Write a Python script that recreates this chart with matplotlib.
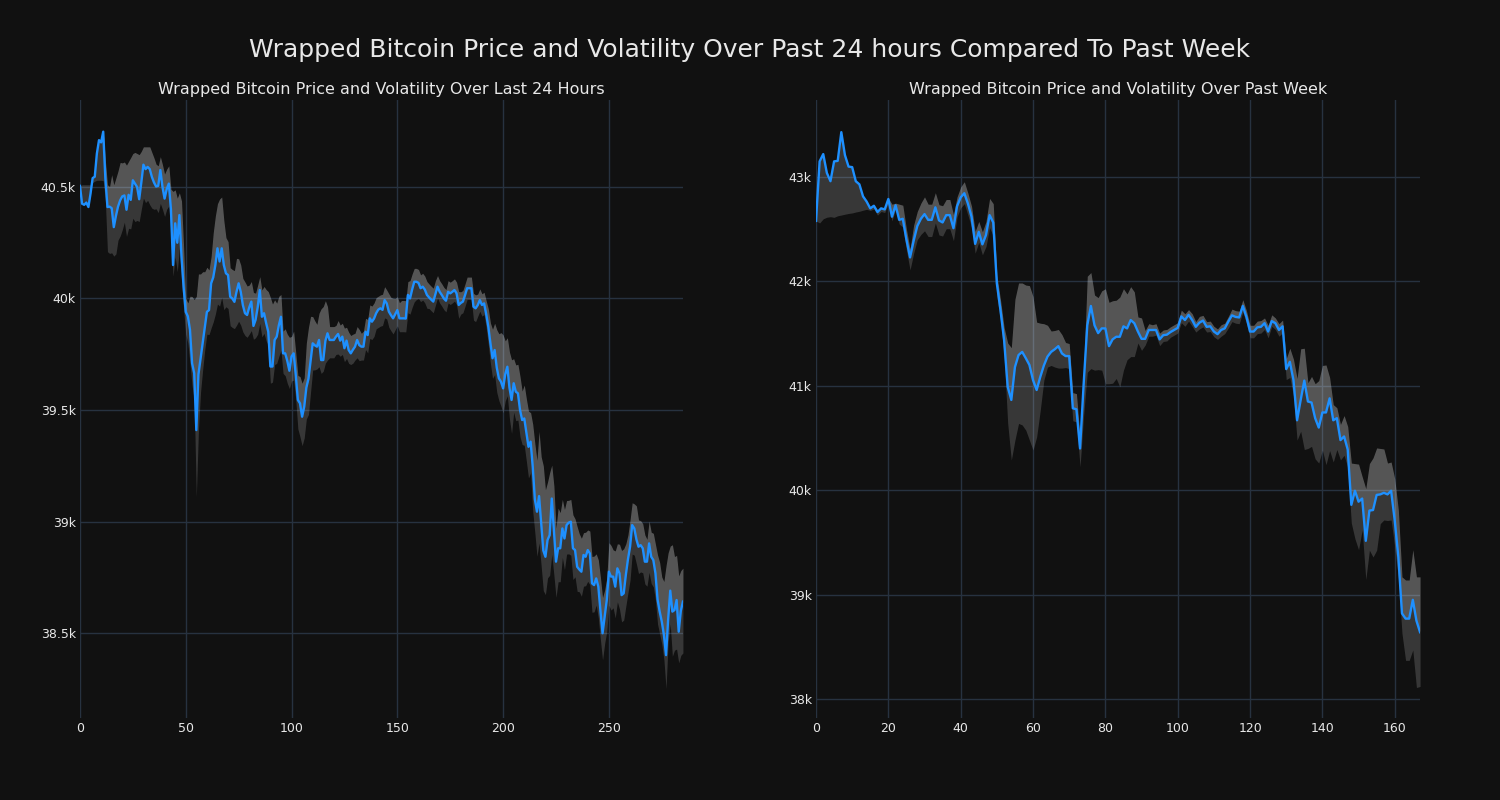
import numpy as np
import matplotlib
matplotlib.use("Agg")
import matplotlib.pyplot as plt
from matplotlib.ticker import FuncFormatter, MultipleLocator

# last 24 hours, 5-minute steps
day_price = [
    40505, 40425, 40420, 40430, 40410, 40470, 40540, 40546, 40650, 40710,
    40700, 40748, 40540, 40410, 40412, 40405, 40320, 40370, 40412, 40440,
    40458, 40462, 40398, 40465, 40442, 40530, 40515, 40500, 40445, 40520,
    40600, 40580, 40590, 40580, 40545, 40520, 40502, 40505, 40576, 40500,
    40448, 40490, 40515, 40400, 40150, 40337, 40250, 40374, 40187, 40050,
    39940, 39920, 39860, 39709, 39665, 39410, 39660, 39730, 39800, 39870,
    39940, 39948, 40068, 40095, 40150, 40225, 40166, 40225, 40150, 40113,
    40105, 40008, 40000, 39985, 40030, 40068, 40030, 39970, 39934, 39926,
    39960, 39986, 39877, 39904, 39960, 40038, 39918, 39934, 39890, 39851,
    39695, 39695, 39814, 39829, 39880, 39918, 39754, 39754, 39720, 39676,
    39740, 39754, 39657, 39545, 39530, 39470, 39515, 39600, 39640, 39720,
    39799, 39790, 39784, 39814, 39724, 39724, 39810, 39844, 39814, 39814,
    39814, 39829, 39841, 39811, 39829, 39777, 39811, 39769, 39754, 39770,
    39784, 39814, 39791, 39784, 39784, 39851, 39836, 39911, 39896, 39910,
    39934, 39950, 39956, 39949, 39993, 39978, 39941, 39925, 39911, 39930,
    39948, 39911, 39911, 39911, 39910, 40016, 40000, 40040, 40075, 40075,
    40070, 40046, 40053, 40040, 40016, 40005, 39995, 39986, 40020, 40053,
    40030, 40016, 40000, 39990, 40030, 40023, 40030, 40038, 40023, 39971,
    39980, 39986, 40015, 40046, 40046, 40046, 39963, 39956, 39970, 39993,
    39971, 39978, 39930, 39874, 39800, 39732, 39769, 39690, 39642, 39627,
    39597, 39660, 39694, 39600, 39545, 39620, 39582, 39575, 39500, 39455,
    39462, 39400, 39335, 39358, 39246, 39100, 39044, 39114, 38990, 38870,
    38842, 38917, 38939, 39103, 38960, 38820, 38880, 38880, 38969, 38924,
    38984, 38995, 38999, 38880, 38872, 38797, 38785, 38775, 38850, 38842,
    38872, 38857, 38723, 38715, 38745, 38708, 38600, 38499, 38573, 38648,
    38775, 38753, 38753, 38708, 38790, 38768, 38670, 38678, 38760, 38830,
    38887, 38984, 38969, 38920, 38887, 38894, 38880, 38820, 38820, 38902,
    38842, 38827, 38768, 38650, 38596, 38551, 38491, 38401, 38560, 38690,
    38596, 38603, 38648, 38506, 38600, 38641,
]
day_up = [
    0, 0, 0, 0, 0, 0, 0, 0, 0, 0,
    0, 0, 80, 100, 90, 150, 190, 170, 160, 170,
    150, 150, 200, 150, 190, 120, 140, 150, 200, 140,
    80, 100, 90, 100, 110, 110, 100, 90, 60, 100,
    110, 90, 80, 90, 330, 150, 200, 100, 250, 180,
    60, 60, 150, 300, 330, 600, 450, 380, 320, 250,
    200, 180, 120, 200, 220, 200, 280, 230, 200, 160,
    150, 130, 130, 140, 150, 110, 120, 120, 140, 130,
    100, 90, 150, 120, 100, 60, 120, 120, 150, 180,
    310, 280, 180, 150, 130, 100, 100, 110, 120, 150,
    90, 100, 100, 110, 120, 150, 130, 200, 230, 200,
    120, 110, 100, 120, 230, 240, 180, 120, 60, 60,
    60, 50, 60, 70, 60, 90, 60, 80, 80, 70,
    60, 60, 70, 60, 70, 60, 70, 60, 70, 70,
    70, 60, 60, 70, 60, 60, 80, 80, 90, 70,
    60, 70, 80, 80, 80, 60, 80, 70, 60, 60,
    60, 60, 60, 60, 60, 60, 60, 60, 60, 50,
    50, 50, 50, 50, 50, 50, 50, 50, 50, 60,
    50, 50, 50, 50, 50, 50, 60, 60, 50, 50,
    50, 50, 60, 80, 90, 130, 120, 170, 200, 220,
    240, 150, 130, 160, 180, 110, 120, 130, 150, 130,
    150, 150, 160, 130, 190, 250, 230, 290, 300, 380,
    300, 260, 280, 150, 200, 150, 180, 160, 130, 130,
    110, 100, 100, 150, 140, 180, 160, 150, 100, 110,
    90, 100, 120, 130, 110, 120, 150, 160, 120, 100,
    130, 140, 120, 160, 110, 130, 200, 200, 140, 110,
    120, 100, 110, 150, 120, 110, 110, 120, 100, 100,
    110, 120, 130, 200, 220, 200, 240, 400, 300, 200,
    300, 240, 200, 250, 180, 150,
]
day_dn = [
    0, -85, -90, -80, -100, -40, 20, 20, 120, 180,
    170, 220, 100, 200, 210, 200, 130, 170, 150, 160,
    150, 120, 120, 150, 130, 170, 170, 150, 100, 120,
    150, 150, 150, 160, 140, 120, 100, 120, 150, 100,
    80, 90, 100, 110, 50, 150, 130, 150, 100, 100,
    100, 120, 150, 100, 120, 300, 250, 150, 120, 100,
    100, 110, 200, 200, 220, 250, 200, 220, 200, 150,
    150, 130, 130, 120, 150, 170, 150, 120, 100, 100,
    120, 130, 60, 80, 120, 150, 90, 90, 80, 60,
    75, 70, 110, 120, 140, 150, 90, 100, 100, 80,
    110, 120, 110, 130, 150, 130, 140, 140, 160, 140,
    120, 110, 100, 120, 60, 50, 100, 120, 80, 80,
    80, 80, 90, 70, 80, 60, 80, 60, 50, 60,
    60, 80, 70, 60, 60, 80, 80, 90, 80, 80,
    70, 80, 80, 70, 80, 70, 70, 70, 70, 70,
    70, 60, 60, 60, 60, 80, 70, 80, 90, 80,
    70, 60, 60, 60, 60, 50, 50, 50, 50, 50,
    50, 50, 50, 50, 50, 50, 50, 50, 50, 60,
    50, 50, 50, 50, 50, 50, 60, 60, 50, 50,
    50, 50, 60, 80, 90, 90, 110, 110, 100, 110,
    110, 120, 130, 140, 150, 130, 130, 120, 120, 110,
    120, 130, 140, 140, 200, 150, 200, 210, 190, 180,
    170, 170, 180, 250, 200, 160, 150, 150, 130, 140,
    130, 140, 150, 140, 120, 110, 100, 110, 140, 130,
    140, 140, 130, 120, 120, 140, 130, 120, 120, 140,
    150, 150, 140, 140, 150, 160, 120, 120, 140, 150,
    150, 130, 120, 110, 120, 120, 110, 100, 110, 130,
    120, 120, 120, 110, 100, 100, 110, 150, 100, 150,
    200, 180, 220, 140, 200, 230,
]

# past week, hourly
week_price = [
    42580, 43150, 43220, 43040, 42960, 43150, 43155, 43430, 43210, 43100,
    43095, 42960, 42930, 42815, 42765, 42700, 42725, 42665, 42700, 42690,
    42790, 42620, 42730, 42590, 42600, 42400, 42230, 42390, 42530, 42600,
    42645, 42590, 42590, 42710, 42585, 42565, 42635, 42635, 42510, 42720,
    42805, 42845, 42745, 42620, 42360, 42475, 42355, 42445, 42635, 42565,
    41980, 41725, 41440, 40990, 40865, 41180, 41295, 41325, 41265, 41200,
    41055, 40960, 41085, 41195, 41280, 41325, 41350, 41380, 41310, 41285,
    41285, 40785, 40775, 40400, 41020, 41580, 41765, 41580, 41505, 41550,
    41550, 41380, 41445, 41470, 41470, 41570, 41550, 41630, 41600, 41520,
    41450, 41450, 41535, 41535, 41535, 41445, 41485, 41490, 41515, 41535,
    41555, 41665, 41630, 41680, 41630, 41565, 41605, 41625, 41565, 41570,
    41520, 41495, 41535, 41550, 41615, 41675, 41660, 41655, 41765, 41660,
    41520, 41520, 41560, 41565, 41600, 41520, 41620, 41600, 41535, 41570,
    41160, 41230, 41055, 40670, 40865, 41050, 40850, 40840, 40690, 40600,
    40745, 40745, 40880, 40670, 40690, 40480, 40515, 40390, 39860, 39995,
    39890, 39920, 39515, 39805, 39810, 39955, 39960, 39975, 39960, 39995,
    39710, 39360, 38820, 38770, 38770, 38950, 38750, 38640,
]
week_up = [
    0, 0, 0, 0, 0, 0, 0, 0, 0, 0,
    0, 0, 0, 0, 0, 0, 10, 20, 10, 10,
    10, 120, 20, 150, 130, 100, 80, 150, 140, 150,
    165, 150, 150, 140, 150, 160, 150, 150, 130, 90,
    100, 110, 100, 100, 120, 100, 120, 130, 160, 180,
    80, 100, 120, 420, 500, 650, 690, 660, 700, 760,
    800, 650, 515, 400, 300, 200, 180, 160, 180, 130,
    120, 150, 150, 110, 120, 470, 320, 290, 340, 360,
    380, 420, 370, 350, 380, 360, 330, 320, 300, 140,
    200, 80, 60, 50, 60, 60, 50, 50, 50, 50,
    50, 60, 60, 50, 60, 50, 60, 50, 50, 50,
    50, 50, 50, 50, 50, 60, 60, 60, 60, 60,
    60, 60, 60, 60, 50, 60, 60, 50, 60, 60,
    100, 130, 200, 400, 490, 310, 180, 250, 330, 450,
    450, 455, 200, 150, 100, 150, 200, 220, 400, 260,
    360, 210, 500, 450, 500, 450, 440, 420, 300, 275,
    400, 450, 350, 370, 370, 480, 420, 530,
]
week_dn = [
    0, 590, 620, 425, 340, 536, 526, 794, 566, 449,
    439, 295, 258, 133, 74, 20, 30, 30, 30, 30,
    40, 40, 40, 40, 80, 100, 120, 120, 130, 150,
    160, 160, 160, 150, 140, 130, 130, 130, 120, 100,
    100, 100, 110, 100, 90, 100, 100, 110, 120, 130,
    120, 100, 150, 350, 576, 700, 655, 700, 690, 720,
    670, 450, 320, 140, 100, 130, 170, 210, 140, 110,
    120, 120, 120, 175, 300, 450, 600, 430, 350, 400,
    530, 360, 420, 400, 480, 420, 300, 350, 320, 110,
    110, 60, 60, 60, 50, 60, 60, 60, 50, 50,
    50, 60, 60, 60, 60, 50, 60, 60, 50, 50,
    50, 50, 60, 50, 60, 60, 60, 60, 60, 60,
    60, 60, 60, 60, 60, 60, 50, 60, 60, 60,
    100, 150, 150, 190, 300, 660, 450, 420, 390, 340,
    360, 500, 500, 400, 300, 190, 180, 170, 175, 460,
    460, 300, 370, 380, 450, 530, 280, 260, 250, 280,
    250, 200, 190, 400, 400, 480, 640, 520,
]

BG = "#111111"
GRID = "#273240"
TXT = "#e8e8e8"
LINE = "#1e90ff"


def k_fmt(v, pos):
    return f"{v / 1000:g}k"


def draw(ax, price, up, dn, title, xstep, ystep, ylim):
    price = np.array(price, dtype=float)
    x = np.arange(len(price))
    upper = price + np.array(up)
    lower = price - np.array(dn)
    ax.fill_between(x, price, upper, color="white", alpha=0.29, lw=0)
    ax.fill_between(x, lower, price, color="white", alpha=0.16, lw=0)
    ax.plot(x, price, color=LINE, lw=1.7)
    ax.set_facecolor(BG)
    ax.set_xlim(0, len(price) - 1)
    ax.set_ylim(*ylim)
    ax.xaxis.set_major_locator(MultipleLocator(xstep))
    ax.yaxis.set_major_locator(MultipleLocator(ystep))
    ax.yaxis.set_major_formatter(FuncFormatter(k_fmt))
    ax.grid(True, color=GRID, lw=1)
    ax.set_axisbelow(True)
    for s in ax.spines.values():
        s.set_visible(False)
    ax.tick_params(colors=TXT, labelsize=9, length=0, pad=3)
    ax.set_title(title, color=TXT, fontsize=11.5, pad=4.5)


fig = plt.figure(figsize=(15, 8), dpi=100, facecolor=BG)
ax1 = fig.add_axes([0.0533, 0.1025, 0.4020, 0.7725])
ax2 = fig.add_axes([0.5440, 0.1025, 0.4027, 0.7725])

draw(ax1, day_price, day_up, day_dn,
     "Wrapped Bitcoin Price and Volatility Over Last 24 Hours", 50, 500, (38119, 40890))
draw(ax2, week_price, week_up, week_dn,
     "Wrapped Bitcoin Price and Volatility Over Past Week", 20, 1000, (37818, 43738))

fig.suptitle("Wrapped Bitcoin Price and Volatility Over Past 24 hours Compared To Past Week",
             color=TXT, fontsize=18, y=0.952)

fig.savefig("out.png", facecolor=BG)
